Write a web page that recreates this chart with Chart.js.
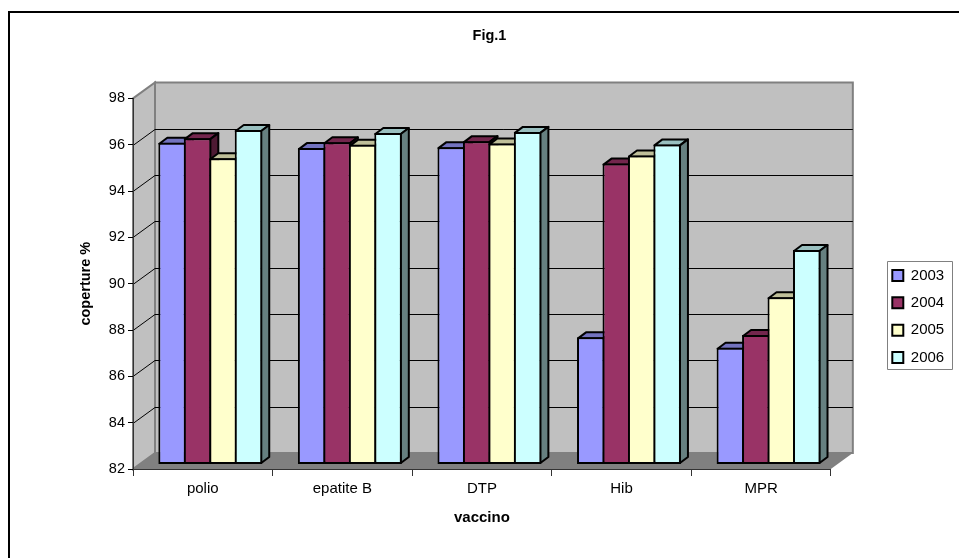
<!DOCTYPE html>
<html>
<head>
<meta charset="utf-8">
<title>Fig.1</title>
<script src="https://cdn.jsdelivr.net/npm/chart.js@4"></script>
<style>
  html, body { margin: 0; padding: 0; background: #fff; }
  canvas { display: block; }
</style>
</head>
<body>
<canvas id="chart" width="959" height="558"></canvas>
<script>
const categories = ['polio', 'epatite B', 'DTP', 'Hib', 'MPR'];
const years = ['2003', '2004', '2005', '2006'];
const values2003 = [95.89, 95.66, 95.7, 87.49, 87.04];
const values2004 = [96.09, 95.91, 95.96, 94.99, 87.59];
const values2005 = [95.22, 95.8, 95.86, 95.34, 89.22];
const values2006 = [96.44, 96.31, 96.36, 95.82, 91.26];
const yTicks = [82, 84, 86, 88, 90, 92, 94, 96, 98];

const barColors = ['#9999FF', '#993366', '#FFFFCC', '#CCFFFF'];
const topColors = ['#7373BF', '#73264D', '#BFBF99', '#99BFBF'];
const sideColors = ['#4D4D80', '#4D1A33', '#808066', '#668080'];

// depth of the 3d box and of the bars, in px
const WALL_DX = 22, WALL_DY = -16;
const BAR_SHIFT_X = 7.5, BAR_SHIFT_Y = -4.5;
const BAR_DX = 8, BAR_DY = -6;

const fontFamily = '"Liberation Sans", Arial, sans-serif';
Chart.defaults.font.family = fontFamily;
Chart.defaults.font.size = 14.5;
Chart.defaults.color = '#000';

const box3d = {
  id: 'box3d',
  afterLayout(chart) {
    // excel puts the legend and the title a bit off centre
    const legend = chart.legend;
    const mid = (legend.top + legend.bottom) / 2;
    legend.top += 316.5 - mid;
    legend.bottom += 316.5 - mid;
    legend.left = 880;
    legend.right = 953;
    const title = chart.titleBlock;
    const cx = (title.left + title.right) / 2;
    title.left += 489.5 - cx;
    title.right += 489.5 - cx;
  },
  beforeDraw(chart) {
    const ctx = chart.ctx;
    const { left, right } = chart.chartArea;
    const y = chart.scales.y;
    const top = y.getPixelForValue(98), bottom = y.getPixelForValue(82);

    ctx.save();
    // frame lines of the pasted picture
    ctx.strokeStyle = '#000';
    ctx.lineWidth = 2;
    ctx.beginPath();
    ctx.moveTo(9, 558);
    ctx.lineTo(9, 12);
    ctx.lineTo(959, 12);
    ctx.stroke();

    // side and back wall
    ctx.fillStyle = '#C0C0C0';
    ctx.strokeStyle = '#808080';
    ctx.lineWidth = 2;
    poly(ctx, [[left, top], [left + WALL_DX, top + WALL_DY], [left + WALL_DX, bottom + WALL_DY], [left, bottom]]);
    ctx.fill();
    ctx.stroke();
    ctx.beginPath();
    ctx.rect(left + WALL_DX, top + WALL_DY, right - left, bottom - top);
    ctx.fill();
    ctx.stroke();

    // floor
    ctx.fillStyle = '#808080';
    poly(ctx, [[left, bottom], [right, bottom], [right + WALL_DX, bottom + WALL_DY], [left + WALL_DX, bottom + WALL_DY]]);
    ctx.fill();

    // gridlines run up the side wall and along the back
    ctx.strokeStyle = '#000';
    ctx.lineWidth = 1;
    yTicks.slice(1, -1).forEach(v => {
      const py = Math.round(y.getPixelForValue(v)) + 0.5;
      ctx.beginPath();
      ctx.moveTo(left, py);
      ctx.lineTo(left + WALL_DX, py + WALL_DY);
      ctx.lineTo(right + WALL_DX, py + WALL_DY);
      ctx.stroke();
    });

    // legend frame
    ctx.fillStyle = '#fff';
    ctx.strokeStyle = '#808080';
    ctx.beginPath();
    ctx.rect(887.5, 261.5, 65, 108);
    ctx.fill();
    ctx.stroke();
    ctx.restore();
  },
  beforeDatasetsDraw(chart) {
    // paint the series left to right so the next bar covers the side face
    const ctx = chart.ctx;
    years.forEach((year, i) => {
      const meta = chart.getDatasetMeta(i);
      ctx.save();
      ctx.translate(BAR_SHIFT_X, BAR_SHIFT_Y);
      ctx.strokeStyle = '#000';
      ctx.lineWidth = 2;
      ctx.lineJoin = 'round';
      meta.data.forEach(bar => {
        const l = bar.x - bar.width / 2 + 1, r = bar.x + bar.width / 2 - 1;
        const t = bar.y + 1, b = bar.base - 1;
        ctx.fillStyle = topColors[i];
        poly(ctx, [[l, t], [r, t], [r + BAR_DX, t + BAR_DY], [l + BAR_DX, t + BAR_DY]]);
        ctx.fill();
        ctx.stroke();
        ctx.fillStyle = sideColors[i];
        poly(ctx, [[r, t], [r + BAR_DX, t + BAR_DY], [r + BAR_DX, b + BAR_DY], [r, b]]);
        ctx.fill();
        ctx.stroke();
      });
      meta.controller.draw();
      ctx.restore();
    });
    return false;
  }
};

function poly(ctx, pts) {
  ctx.beginPath();
  pts.forEach((p, i) => i ? ctx.lineTo(p[0], p[1]) : ctx.moveTo(p[0], p[1]));
  ctx.closePath();
}

new Chart(document.getElementById('chart'), {
  type: 'bar',
  plugins: [box3d],
  data: {
    labels: categories,
    datasets: [values2003, values2004, values2005, values2006].map((values, i) => ({
      label: years[i],
      data: values,
      base: 82,
      backgroundColor: barColors[i],
      borderColor: '#000',
      borderWidth: 2,
      borderSkipped: false
    }))
  },
  options: {
    responsive: false,
    animation: false,
    events: [],
    layout: { padding: { right: 54, left: 22 } },
    barPercentage: 1.08,
    categoryPercentage: 0.73,
    plugins: {
      tooltip: { enabled: false },
      title: {
        display: true,
        text: 'Fig.1',
        font: { size: 14.5, weight: 'bold' },
        padding: { top: 27, bottom: 54 }
      },
      legend: {
        position: 'right',
        labels: { boxWidth: 11, boxHeight: 11, padding: 12.3, font: { size: 15 } }
      }
    },
    scales: {
      x: {
        grid: { drawOnChartArea: false, offset: true, tickLength: 7, tickColor: '#333' },
        border: { color: '#333', width: 1 },
        ticks: { padding: 4, maxRotation: 0, font: { size: 15 } },
        title: {
          display: true,
          text: 'vaccino',
          font: { size: 15, weight: 'bold' },
          padding: { top: 12, bottom: 31 }
        },
        afterFit(scale) { scale.height = 89; }
      },
      y: {
        min: 82,
        max: 98,
        grid: { drawOnChartArea: false, tickLength: 5, tickColor: '#000' },
        border: { color: '#333', width: 1 },
        ticks: { stepSize: 2, padding: 3 },
        title: {
          display: true,
          text: 'coperture %',
          font: { size: 14.5, weight: 'bold' },
          padding: { top: 55, bottom: 0 }
        },
        afterFit(scale) { scale.width = 111; }
      }
    }
  }
});
</script>
</body>
</html>
